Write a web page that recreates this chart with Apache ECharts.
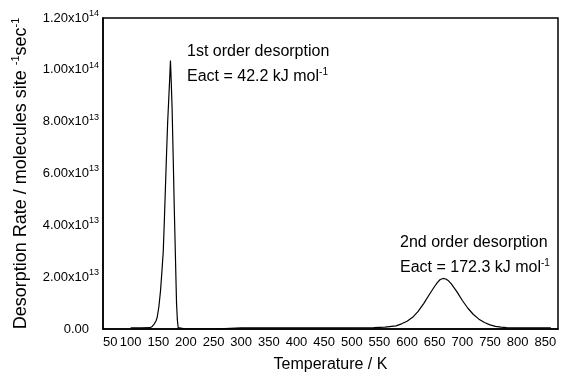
<!DOCTYPE html>
<html><head><meta charset="utf-8">
<script src="https://cdn.jsdelivr.net/npm/echarts@6/dist/echarts.min.js"></script>
<style>html,body{margin:0;padding:0;background:#fff}#c{width:564px;height:378px}</style>
</head><body><div id="c"></div>
<script>
// Temperature (K)
const temperatures = [100,120,135,139,143,146,148,151,154,156.5,159,161,163,165,167,169,170.5,172,173.5,175,177,179,181,183,184.5,186,188,200,250,300,350,400,450,500,540,560,580,590,600,610,620,630,640,650,655,660,665,670,675,680,690,700,710,720,730,740,750,760,770,780,790,800,820,850,860];
// Desorption rate in units of 1e13 molecules site^-1 sec^-1
const rates = [0.04,0.04,0.05,0.1,0.2,0.32,0.45,0.85,1.46,2.2,3.0,4.2,5.5,6.8,8.0,8.9,9.6,10.36,9.5,8.5,6.6,4.6,2.8,1.0,0.35,0.05,0,0,0,0.04,0.04,0.04,0.04,0.04,0.05,0.07,0.12,0.2,0.3,0.45,0.68,0.98,1.32,1.65,1.8,1.91,1.95,1.93,1.86,1.74,1.44,1.1,0.8,0.56,0.38,0.25,0.16,0.1,0.07,0.05,0.045,0.04,0.04,0.04,0.04];
const RATE_UNIT = 1e13;
const xTickLabels = [50,100,150,200,250,300,350,400,450,500,550,600,650,700,750,800,850];
const yTickValues = [0, 2e13, 4e13, 6e13, 8e13, 1e14, 1.2e14];
const annotation1 = ['1st order desorption', 'Eact = 42.2 kJ mol'];
const annotation2 = ['2nd order desorption', 'Eact = 172.3 kJ mol'];

const FONT = '"Liberation Sans", Arial, sans-serif';
const data = temperatures.map((t, i) => [t, rates[i] * RATE_UNIT]);

function yLabel(v) {
  if (v === 0) return '{m|0.00}{h|13}';
  const e = Math.floor(Math.log10(v) + 1e-9);
  const m = v / Math.pow(10, e);
  return '{m|' + m.toFixed(2) + 'x10}{s|' + e + '}';
}

const annoRich = {
  t: {fontSize: 16, fontFamily: FONT, fill: '#000', lineHeight: 25},
  s: {fontSize: 10, fontFamily: FONT, fill: '#000', padding: [0, 0, 10, 0]}
};

const chart = echarts.init(document.getElementById('c'), null, {renderer: 'canvas'});
chart.setOption({
  animation: false,
  backgroundColor: '#fff',
  textStyle: {fontFamily: FONT, color: '#000'},
  grid: {left: 103, right: 6, top: 18, bottom: 47, show: true, borderColor: '#000', borderWidth: 1.5, backgroundColor: 'transparent'},
  xAxis: {
    type: 'value', min: 50, max: 873, interval: 50,
    axisLine: {show: true, lineStyle: {color: '#000', width: 1.5}},
    axisTick: {show: false}, splitLine: {show: false},
    axisLabel: {
      color: '#000', fontFamily: FONT, fontSize: 13, margin: 7, alignMinLabel: 'left', showMaxLabel: true,
      formatter: v => xTickLabels.indexOf(v) >= 0 ? String(v) : ''
    },
    name: 'Temperature / K', nameLocation: 'middle', nameGap: 28,
    nameTextStyle: {color: '#000', fontFamily: FONT, fontSize: 16}
  },
  yAxis: {
    type: 'value', min: 0, max: 1.2e14, interval: 2e13,
    axisLine: {show: true, lineStyle: {color: '#000', width: 1.5}},
    axisTick: {show: false}, splitLine: {show: false},
    axisLabel: {
      margin: 4, formatter: yLabel,
      rich: {
        m: {fontSize: 13, fontFamily: FONT, color: '#000'},
        s: {fontSize: 9, fontFamily: FONT, color: '#000', padding: [0, 0, 9, 0]},
        h: {fontSize: 9, fontFamily: FONT, color: 'rgba(0,0,0,0)', padding: [0, 0, 9, 0]}
      }
    },
    name: 'Desorption Rate / molecules site {s|-1}sec{s|-1}', nameLocation: 'middle', nameGap: 71, nameRotate: 90,
    nameTextStyle: {
      color: '#000', fontFamily: FONT, fontSize: 18,
      rich: {s: {fontSize: 11, fontFamily: FONT, color: '#000', padding: [0, 0, 11, 0]}}
    }
  },
  graphic: [
    {type: 'text', left: 187, top: 44, style: {
      text: '{t|' + annotation1[0] + '}\n{t|' + annotation1[1] + '}{s|-1}', rich: annoRich
    }},
    {type: 'text', left: 400, top: 235, style: {
      text: '{t|' + annotation2[0] + '}\n{t|' + annotation2[1] + '}{s|-1}', rich: annoRich
    }}
  ],
  series: [{
    type: 'line', data: data, showSymbol: false, smooth: false,
    lineStyle: {color: '#000', width: 1.2}, z: 3
  }]
});
</script>
</body></html>
